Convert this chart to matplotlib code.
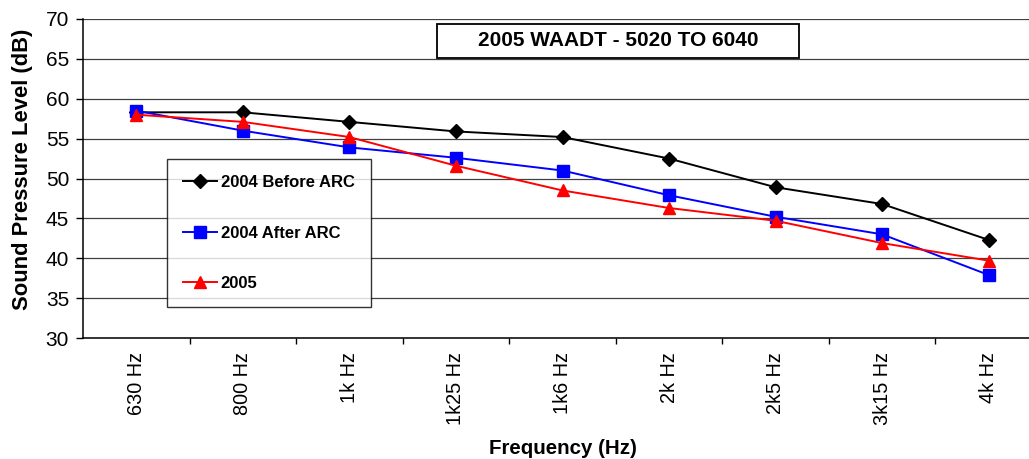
import numpy as np
import matplotlib
matplotlib.use('Agg')
import matplotlib.pyplot as plt
from matplotlib.patches import Rectangle

plt.rcParams['font.family'] = ['Liberation Sans', 'DejaVu Sans']

# frequency bands and measured levels (dB)
freqs = ['630 Hz', '800 Hz', '1k Hz', '1k25 Hz', '1k6 Hz', '2k Hz', '2k5 Hz', '3k15 Hz', '4k Hz']
before_arc_2004 = [58.3, 58.3, 57.1, 55.9, 55.2, 52.5, 48.9, 46.8, 42.3]
after_arc_2004 = [58.5, 56.0, 53.9, 52.6, 51.0, 47.9, 45.2, 43.0, 37.9]
year_2005 = [58.0, 57.1, 55.2, 51.6, 48.5, 46.3, 44.7, 41.9, 39.7]

W, H = 1029, 459
fig = plt.figure(figsize=(W / 100, H / 100), dpi=100)
ax = fig.add_axes([83/W, 1 - 338/H, 959/W, 319/H])

x = np.arange(len(freqs))
ax.plot(x, before_arc_2004, color='black', lw=1.4, marker='D', ms=7.5, label='2004 Before ARC')
ax.plot(x, after_arc_2004, color='blue', lw=1.4, marker='s', ms=8, label='2004 After ARC')
ax.plot(x, year_2005, color='red', lw=1.4, marker='^', ms=9, label='2005')

ax.set_xlim(-0.5, len(freqs) - 0.5)
ax.set_ylim(30, 70)
ax.set_yticks(np.arange(30, 71, 5))
ax.yaxis.grid(True, color='#404040', lw=0.9)
ax.set_axisbelow(True)

# category ticks at boundaries, labels at centres
ax.set_xticks(np.arange(0.5, len(freqs) - 0.5))
ax.set_xticklabels([])
ax.set_xticks(x, minor=True)
ax.set_xticklabels(freqs, minor=True, rotation=90, fontsize=14.3)
ax.tick_params(axis='x', which='major', direction='out', length=4, width=1)
ax.tick_params(axis='x', which='minor', length=0, pad=10)
ax.tick_params(axis='y', direction='out', length=5, width=1, labelsize=15, pad=5)

for s in ['top', 'right']:
    ax.spines[s].set_visible(False)
ax.spines['left'].set_linewidth(1.1)
ax.spines['bottom'].set_linewidth(1.1)

ax.set_xlabel('Frequency (Hz)', fontsize=14.8, fontweight='bold', labelpad=10.5)
ax.set_ylabel('Sound Pressure Level (dB)', fontsize=15.8, fontweight='bold')
ax.yaxis.set_label_coords((33 - 83) / 959, (338 - 169) / 319)

leg = ax.legend(loc='upper left', bbox_to_anchor=((167 - 83) / 959, (338 - 159) / 319),
                prop={'weight': 'bold', 'size': 12}, frameon=True, fancybox=False,
                edgecolor='black', labelspacing=2.12, handlelength=2.0, handletextpad=0.25,
                borderpad=0.98, borderaxespad=0)
leg.get_frame().set_linewidth(1.0)

# title box
fig.patches.append(Rectangle((437/W, 1 - 58/H), 362/W, 34/H, transform=fig.transFigure,
                             fc='white', ec='black', lw=1.3, zorder=5))
fig.text(618/W, 1 - 41/H, '2005 WAADT - 5020 TO 6040', ha='center', va='center',
         fontsize=15, fontweight='bold', zorder=6)

fig.savefig('out.png', dpi=100)
